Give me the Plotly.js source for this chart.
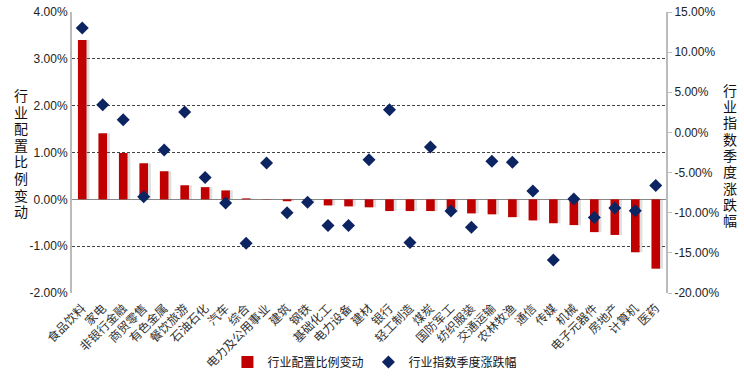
<!DOCTYPE html>
<html>
<head>
<meta charset="utf-8">
<script src="https://cdn.plot.ly/plotly-3.0.1.min.js"></script>
<style>html,body{margin:0;padding:0;background:#fff;}#chart{width:744px;height:384px;}</style>
</head>
<body>
<div id="chart"></div>
<script>
const categories = ["食品饮料","家电","非银行金融","商贸零售","有色金属","餐饮旅游","石油石化","汽车","综合","电力及公用事业","建筑","钢铁","基础化工","电力设备","建材","银行","轻工制造","煤炭","国防军工","纺织服装","交通运输","农林牧渔","通信","传媒","机械","电子元器件","房地产","计算机","医药"];
const allocChange = [3.40,1.41,0.99,0.77,0.60,0.30,0.26,0.19,0.02,0.005,-0.04,-0.06,-0.13,-0.15,-0.17,-0.25,-0.25,-0.25,-0.28,-0.30,-0.32,-0.38,-0.45,-0.51,-0.55,-0.70,-0.76,-1.13,-1.48];
const indexChange = [13.0,3.46,1.58,-8.0,-2.2,2.54,-5.6,-8.8,-13.8,-3.8,-10.0,-8.7,-11.6,-11.6,-3.4,2.84,-13.7,-1.8,-9.8,-11.8,-3.6,-3.7,-7.3,-15.9,-8.3,-10.6,-9.4,-9.75,-6.6];
const leftTicks = [-2,-1,0,1,2,3,4];
const rightTicks = [-20,-15,-10,-5,0,5,10,15];
const seriesNames = ["行业配置比例变动","行业指数季度涨跌幅"];
const leftTitle = "行业配置比例变动";
const rightTitle = "行业指数季度涨跌幅";

const tickFont = {family: "Liberation Sans Narrow, Arial Narrow, sans-serif", size: 12, color: "#222"};
const cjk = "Noto Sans CJK SC, sans-serif";

const W = 744, H = 384, ML = 72, MR = 78, MT = 12, MB = 91;
const PW = W - ML - MR, PH = H - MT - MB;
const px2x = px => (px - ML) / PW;
const px2y = py => (H - MB - py) / PH;

function verticalTitle(text, cx, cy, pitch, size) {
  const chars = text.split("");
  const n = chars.length;
  return chars.map((c, i) => ({
    xref: "paper", yref: "paper", x: px2x(cx), y: px2y(cy + (i - (n - 1) / 2) * pitch),
    xanchor: "center", yanchor: "middle", text: c, showarrow: false,
    font: {family: cjk, size: size, color: "#111"}
  }));
}

const barW = 0.42;
const traces = [
  {type: "bar", x: categories, y: allocChange, name: "shadow", showlegend: false, hoverinfo: "skip",
   marker: {color: "rgba(110,110,110,0.22)"}, width: barW, offset: -barW / 2 + 0.14, yaxis: "y"},
  {type: "bar", x: categories, y: allocChange, name: seriesNames[0],
   marker: {color: "#C00000"}, width: barW, offset: -barW / 2, yaxis: "y"},
  {type: "scatter", mode: "markers", x: categories, y: indexChange, name: seriesNames[1],
   marker: {symbol: "diamond", color: "#0C2461", size: 10}, yaxis: "y2"}
];

const layout = {
  width: W, height: H,
  margin: {l: ML, r: MR, t: MT, b: MB, autoexpand: false},
  paper_bgcolor: "#fff", plot_bgcolor: "#fff",
  barmode: "overlay",
  showlegend: true,
  legend: {orientation: "h", x: 0.51, xanchor: "center", y: px2y(362), yanchor: "middle",
           bgcolor: "rgba(0,0,0,0)",
           font: {family: cjk, size: 12, color: "#111"}, itemwidth: 30, tracegroupgap: 0},
  xaxis: {type: "category", range: [-0.5, categories.length - 0.5], autorange: false,
          tickangle: -45, tickfont: {family: cjk, size: 12, color: "#333"}, ticklabelstandoff: 5,
          showgrid: false, showline: false, ticks: "", automargin: false},
  yaxis: {range: [-2, 4], tickvals: leftTicks, ticktext: leftTicks.map(v => v.toFixed(2) + "%"),
          tickfont: tickFont, showgrid: true, gridcolor: "#444", griddash: "3px,2px", gridwidth: 1,
          zeroline: true, zerolinecolor: "#888", zerolinewidth: 1.5,
          showline: true, linecolor: "#bbb", linewidth: 2, ticks: "", automargin: false},
  yaxis2: {range: [-20, 15], tickvals: rightTicks, ticktext: rightTicks.map(v => v.toFixed(2) + "%"),
           overlaying: "y", side: "right", tickfont: tickFont, showgrid: false, zeroline: false,
           showline: true, linecolor: "#bbb", linewidth: 2, ticks: "outside", ticklen: 4, tickcolor: "#bbb",
           automargin: false},
  annotations: verticalTitle(leftTitle, 21, 153, 16.6, 14).concat(verticalTitle(rightTitle, 730, 155, 16.3, 14))
};

Plotly.newPlot("chart", traces, layout, {displayModeBar: false, staticPlot: true});
</script>
</body>
</html>
